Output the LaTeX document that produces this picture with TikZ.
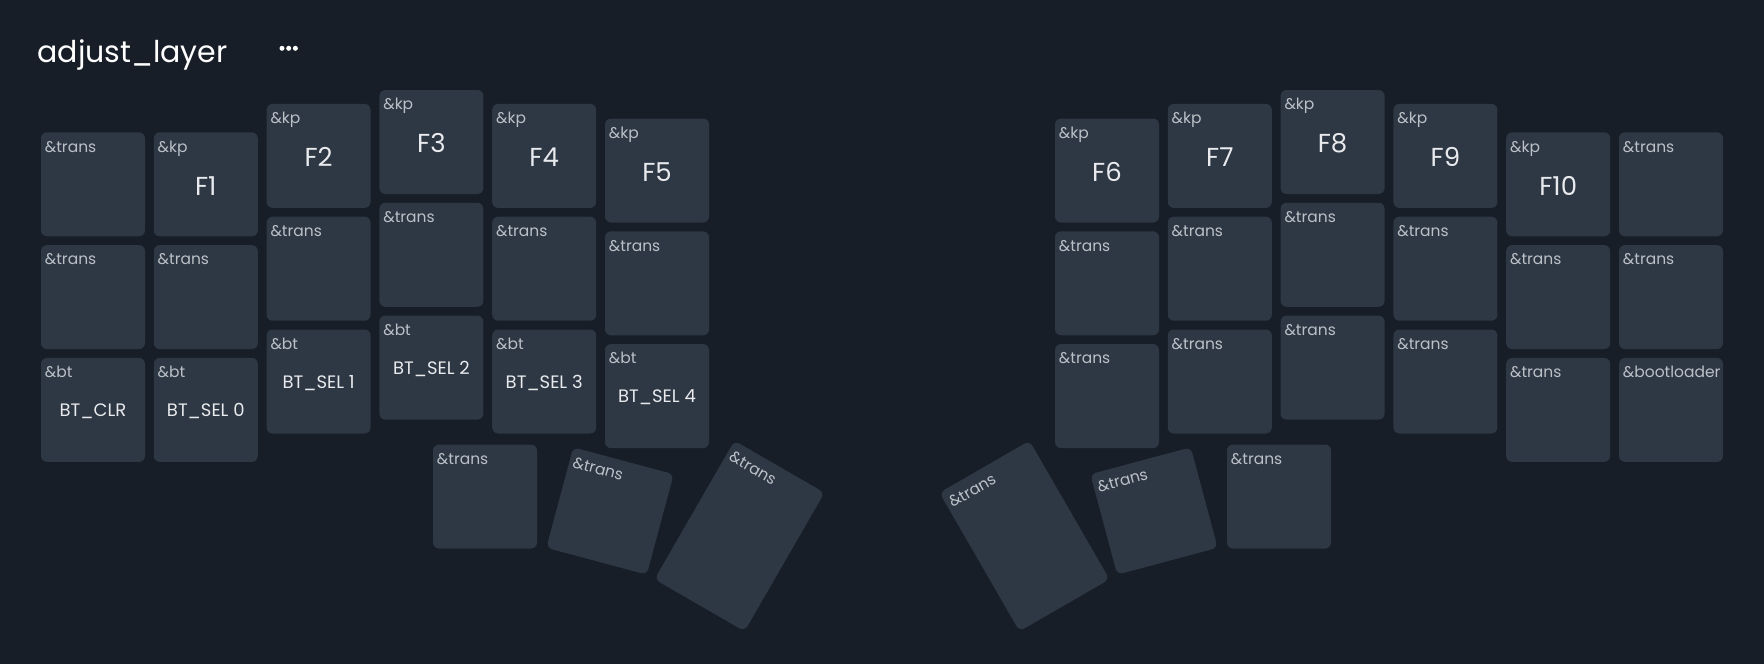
\documentclass[tikz,border=0pt]{standalone}
\usepackage{fontspec}
\setmainfont{Poppins}
\definecolor{bgc}{HTML}{181E28}
\definecolor{keyc}{HTML}{2E3744}
\definecolor{smallc}{HTML}{BCC1C8}
\definecolor{mainc}{HTML}{E8EAED}
\tikzset{
  keybox/.style={rectangle, rounded corners=6pt, fill=keyc, draw=none, minimum width=104pt, inner sep=0pt},
  smalllbl/.style={anchor=base west, inner sep=0pt, text=smallc, font=\fontsize{15.5}{18}\selectfont},
  mainF/.style={anchor=base, inner sep=0pt, text=mainc, font=\fontsize{26}{30}\selectfont},
  mainB/.style={anchor=base, inner sep=0pt, text=mainc, font=\fontsize{18}{22}\selectfont},
  titlelbl/.style={anchor=base west, inner sep=0pt, text=white, font=\fontsize{30}{36}\selectfont},
  dotc/.style={circle, fill=white, inner sep=0pt, minimum size=5pt}
}
% key with only a small legend: name, cx, cy, angle, height, small
\newcommand{\kt}[6]{%
  \begin{scope}[shift={(#2,#3)}, rotate=#4, transform shape]
    \node[keybox, minimum height=#5pt] (#1) at (0,0) {};
    \node[smalllbl] (#1s) at (-48.3, -#5/2+19.7) {#6};
  \end{scope}}
% key with small and main legend: name, cx, cy, angle, small, main, style, baseline
\newcommand{\km}[8]{%
  \begin{scope}[shift={(#2,#3)}, rotate=#4, transform shape]
    \node[keybox, minimum height=104pt] (#1) at (0,0) {};
    \node[smalllbl] (#1s) at (-48.3, -52+19.7) {#5};
    \node[#7] (#1m) at (0,#8) {#6};
  \end{scope}}
\begin{document}
\begin{tikzpicture}[x=1pt,y=-1pt]
\fill[bgc] (0,0) rectangle (1764,664);
\useasboundingbox (0,0) rectangle (1764,664);
\node[titlelbl] (title) at (37.3,62.3) {adjust\_layer};
\node[dotc] (d1) at (282,48.3) {};
\node[dotc] (d2) at (288.7,48.3) {};
\node[dotc] (d3) at (295.4,48.3) {};
% left half
\kt{l00}{93}{184.3}{0}{104}{\&trans}
\km{l01}{205.8}{184.3}{0}{\&kp}{F1}{mainF}{10.8}
\km{l02}{318.6}{155.9}{0}{\&kp}{F2}{mainF}{10.8}
\km{l03}{431.4}{142}{0}{\&kp}{F3}{mainF}{10.8}
\km{l04}{544.2}{155.9}{0}{\&kp}{F4}{mainF}{10.8}
\km{l05}{657}{170.5}{0}{\&kp}{F5}{mainF}{10.8}
\kt{l10}{93}{297.1}{0}{104}{\&trans}
\kt{l11}{205.8}{297.1}{0}{104}{\&trans}
\kt{l12}{318.6}{268.7}{0}{104}{\&trans}
\kt{l13}{431.4}{254.8}{0}{104}{\&trans}
\kt{l14}{544.2}{268.7}{0}{104}{\&trans}
\kt{l15}{657}{283.3}{0}{104}{\&trans}
\km{l20}{93}{409.9}{0}{\&bt}{BT\_CLR}{mainB}{6.7}
\km{l21}{205.8}{409.9}{0}{\&bt}{BT\_SEL 0}{mainB}{6.7}
\km{l22}{318.6}{381.5}{0}{\&bt}{BT\_SEL 1}{mainB}{6.7}
\km{l23}{431.4}{367.6}{0}{\&bt}{BT\_SEL 2}{mainB}{6.7}
\km{l24}{544.2}{381.5}{0}{\&bt}{BT\_SEL 3}{mainB}{6.7}
\km{l25}{657}{396.1}{0}{\&bt}{BT\_SEL 4}{mainB}{6.7}
\kt{lt0}{485}{496.5}{0}{104}{\&trans}
\kt{lt1}{610}{511}{-15}{104}{\&trans}
\kt{lt2}{739.5}{536}{-30}{160}{\&trans}
% right half
\km{r00}{1107}{170.5}{0}{\&kp}{F6}{mainF}{10.8}
\km{r01}{1219.8}{155.9}{0}{\&kp}{F7}{mainF}{10.8}
\km{r02}{1332.6}{142}{0}{\&kp}{F8}{mainF}{10.8}
\km{r03}{1445.4}{155.9}{0}{\&kp}{F9}{mainF}{10.8}
\km{r04}{1558.2}{184.3}{0}{\&kp}{F10}{mainF}{10.8}
\kt{r05}{1671}{184.3}{0}{104}{\&trans}
\kt{r10}{1107}{283.3}{0}{104}{\&trans}
\kt{r11}{1219.8}{268.7}{0}{104}{\&trans}
\kt{r12}{1332.6}{254.8}{0}{104}{\&trans}
\kt{r13}{1445.4}{268.7}{0}{104}{\&trans}
\kt{r14}{1558.2}{297.1}{0}{104}{\&trans}
\kt{r15}{1671}{297.1}{0}{104}{\&trans}
\kt{r20}{1107}{396.1}{0}{104}{\&trans}
\kt{r21}{1219.8}{381.5}{0}{104}{\&trans}
\kt{r22}{1332.6}{367.6}{0}{104}{\&trans}
\kt{r23}{1445.4}{381.5}{0}{104}{\&trans}
\kt{r24}{1558.2}{409.9}{0}{104}{\&trans}
\kt{r25}{1671}{409.9}{0}{104}{\&bootloader}
\kt{rt0}{1279}{496.5}{0}{104}{\&trans}
\kt{rt1}{1154}{511}{15}{104}{\&trans}
\kt{rt2}{1024.5}{536}{30}{160}{\&trans}
\end{tikzpicture}
\end{document}
